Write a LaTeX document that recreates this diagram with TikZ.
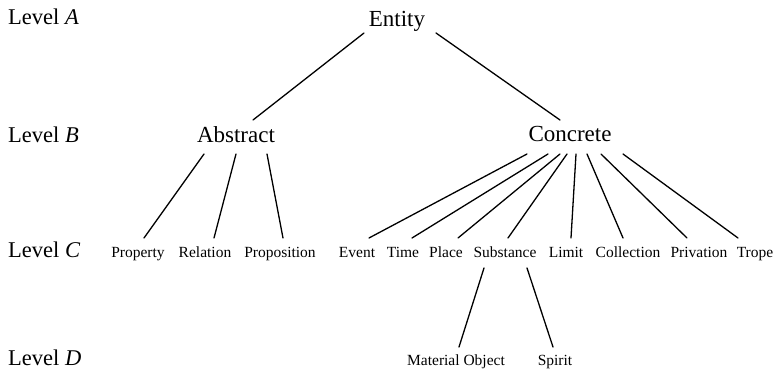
\documentclass[tikz,border=0pt]{standalone}
\usepackage{fontspec}
\setmainfont{Liberation Serif}
\usetikzlibrary{calc}
\begin{document}
\begin{tikzpicture}[x=1pt,y=-1pt,
  big/.style={anchor=base,inner sep=0pt,font=\fontsize{23}{27}\selectfont},
  lvl/.style={anchor=base west,inner sep=0pt,font=\fontsize{22.5}{27}\selectfont},
  small/.style={anchor=base,inner sep=0pt,font=\fontsize{15.5}{18}\selectfont},
  edge/.style={line width=1.3pt,line cap=round}]
\useasboundingbox (0,0) rectangle (776,371);
% level labels
\node[lvl] (la) at (8,25) {Level \textit{A}};
\node[lvl] (lb) at (8,143) {Level \textit{B}};
\node[lvl] (lc) at (8,258) {Level \textit{C}};
\node[lvl] (ld) at (8,365) {Level \textit{D}};
% nodes
\node[big] (entity) at (397,27) {Entity};
\node[big] (abstract) at (236,143) {Abstract};
\node[big] (concrete) at (570,142) {Concrete};
\node[small] (property) at (138,258) {Property};
\node[small] (relation) at (205,258) {Relation};
\node[small] (proposition) at (280,258) {Proposition};
\node[small] (event) at (357,258) {Event};
\node[small] (time) at (403,258) {Time};
\node[small] (place) at (446,258) {Place};
\node[small] (substance) at (505,258) {Substance};
\node[small] (limit) at (566,258) {Limit};
\node[small] (collection) at (628,258) {Collection};
\node[small] (privation) at (699,258) {Privation};
\node[small] (trope) at (755,258) {Trope};
\node[small] (matobj) at (456,365) {Material Object};
\node[small] (spirit) at (555,365) {Spirit};
% connectors
\draw[edge] ($(entity.base)+(-33,6)$) -- ($(abstract.base)+(17,-23)$);
\draw[edge] ($(entity.base)+(39,6)$) -- ($(concrete.base)+(-10,-22)$);
\draw[edge] ($(abstract.base)+(-32,11)$) -- ($(property.base)+(6,-20)$);
\draw[edge] ($(abstract.base)+(0,11)$) -- ($(relation.base)+(9,-20)$);
\draw[edge] ($(abstract.base)+(31,11)$) -- ($(proposition.base)+(3,-20)$);
\draw[edge] ($(concrete.base)+(-43,12)$) -- ($(event.base)+(12,-20)$);
\draw[edge] ($(concrete.base)+(-22,12)$) -- ($(time.base)+(9,-20)$);
\draw[edge] ($(concrete.base)+(-10,12)$) -- ($(place.base)+(12,-20)$);
\draw[edge] ($(concrete.base)+(-3,12)$) -- ($(substance.base)+(3,-20)$);
\draw[edge] ($(concrete.base)+(6,12)$) -- ($(limit.base)+(5,-20)$);
\draw[edge] ($(concrete.base)+(17,12)$) -- ($(collection.base)+(-5,-20)$);
\draw[edge] ($(concrete.base)+(31,12)$) -- ($(privation.base)+(-12,-20)$);
\draw[edge] ($(concrete.base)+(53,12)$) -- ($(trope.base)+(-17,-20)$);
\draw[edge] ($(substance.base)+(-21,10)$) -- ($(matobj.base)+(3,-18)$);
\draw[edge] ($(substance.base)+(22,10)$) -- ($(spirit.base)+(-2,-18)$);
\end{tikzpicture}
\end{document}
